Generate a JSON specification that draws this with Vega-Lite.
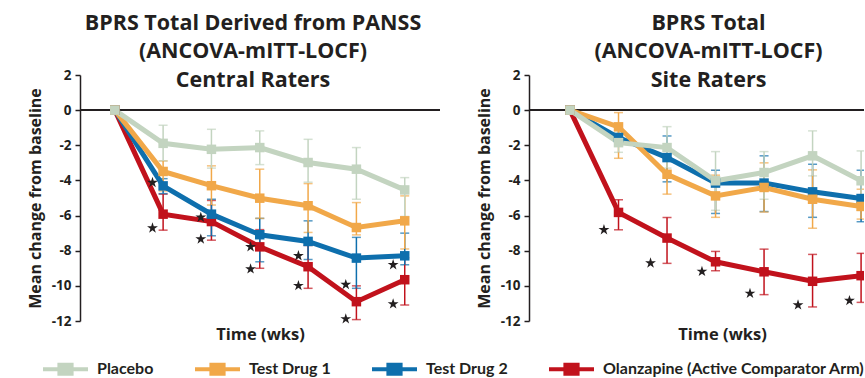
{
  "$schema": "https://vega.github.io/schema/vega-lite/v6.json",
  "padding": {"left": 27, "top": 12, "right": 0, "bottom": 0},
  "background": "white",
  "config": {
    "view": {"stroke": null},
    "font": "Open Sans",
    "axis": {"grid": false, "labelFont": "Open Sans", "titleFont": "Open Sans", "labelColor": "#231f20", "titleColor": "#231f20"},
    "title": {"font": "Open Sans", "fontWeight": "bold", "color": "#231f20"}
  },
  "datasets": {
    "central": [
      {"drug": "Olanzapine (Active Comparator Arm)", "week": 0, "mean": 0, "lo": 0, "hi": 0},
      {"drug": "Olanzapine (Active Comparator Arm)", "week": 1, "mean": -5.92, "lo": -4.78, "hi": -6.83},
      {"drug": "Olanzapine (Active Comparator Arm)", "week": 2, "mean": -6.34, "lo": -5.14, "hi": -7.4},
      {"drug": "Olanzapine (Active Comparator Arm)", "week": 3, "mean": -7.78, "lo": -6.8, "hi": -9.0},
      {"drug": "Olanzapine (Active Comparator Arm)", "week": 4, "mean": -8.91, "lo": -7.7, "hi": -10.14},
      {"drug": "Olanzapine (Active Comparator Arm)", "week": 5, "mean": -10.9, "lo": -10.0, "hi": -11.92},
      {"drug": "Olanzapine (Active Comparator Arm)", "week": 6, "mean": -9.65, "lo": -8.4, "hi": -11.09},
      {"drug": "Test Drug 2", "week": 0, "mean": 0, "lo": 0, "hi": 0},
      {"drug": "Test Drug 2", "week": 1, "mean": -4.31, "lo": -3.9, "hi": -4.75},
      {"drug": "Test Drug 2", "week": 2, "mean": -5.92, "lo": -5.07, "hi": -7.15},
      {"drug": "Test Drug 2", "week": 3, "mean": -7.09, "lo": -6.16, "hi": -8.63},
      {"drug": "Test Drug 2", "week": 4, "mean": -7.47, "lo": -6.3, "hi": -8.5},
      {"drug": "Test Drug 2", "week": 5, "mean": -8.42, "lo": -7.24, "hi": -10.14},
      {"drug": "Test Drug 2", "week": 6, "mean": -8.29, "lo": -7.0, "hi": -8.8},
      {"drug": "Test Drug 1", "week": 0, "mean": 0, "lo": 0, "hi": 0},
      {"drug": "Test Drug 1", "week": 1, "mean": -3.49, "lo": -2.89, "hi": -4.6},
      {"drug": "Test Drug 1", "week": 2, "mean": -4.3, "lo": -3.17, "hi": -5.4},
      {"drug": "Test Drug 1", "week": 3, "mean": -5.01, "lo": -3.36, "hi": -6.16},
      {"drug": "Test Drug 1", "week": 4, "mean": -5.44, "lo": -4.18, "hi": -6.96},
      {"drug": "Test Drug 1", "week": 5, "mean": -6.68, "lo": -5.26, "hi": -7.1},
      {"drug": "Test Drug 1", "week": 6, "mean": -6.3, "lo": -4.88, "hi": -7.9},
      {"drug": "Placebo", "week": 0, "mean": 0, "lo": 0, "hi": 0},
      {"drug": "Placebo", "week": 1, "mean": -1.89, "lo": -0.86, "hi": -2.89},
      {"drug": "Placebo", "week": 2, "mean": -2.23, "lo": -1.09, "hi": -3.3},
      {"drug": "Placebo", "week": 3, "mean": -2.13, "lo": -1.18, "hi": -3.1},
      {"drug": "Placebo", "week": 4, "mean": -2.98, "lo": -1.66, "hi": -4.1},
      {"drug": "Placebo", "week": 5, "mean": -3.36, "lo": -2.13, "hi": -5.07},
      {"drug": "Placebo", "week": 6, "mean": -4.54, "lo": -3.84, "hi": -6.05}
    ],
    "site": [
      {"drug": "Olanzapine (Active Comparator Arm)", "week": 0, "mean": 0, "lo": 0, "hi": 0},
      {"drug": "Olanzapine (Active Comparator Arm)", "week": 1, "mean": -5.82, "lo": -5.1, "hi": -6.81},
      {"drug": "Olanzapine (Active Comparator Arm)", "week": 2, "mean": -7.28, "lo": -6.11, "hi": -8.72},
      {"drug": "Olanzapine (Active Comparator Arm)", "week": 3, "mean": -8.63, "lo": -8.04, "hi": -9.14},
      {"drug": "Olanzapine (Active Comparator Arm)", "week": 4, "mean": -9.2, "lo": -7.91, "hi": -10.5},
      {"drug": "Olanzapine (Active Comparator Arm)", "week": 5, "mean": -9.74, "lo": -8.21, "hi": -11.2},
      {"drug": "Olanzapine (Active Comparator Arm)", "week": 6, "mean": -9.42, "lo": -8.15, "hi": -10.94},
      {"drug": "Test Drug 2", "week": 0, "mean": 0, "lo": 0, "hi": 0},
      {"drug": "Test Drug 2", "week": 1, "mean": -1.56, "lo": -1.1, "hi": -2.0},
      {"drug": "Test Drug 2", "week": 2, "mean": -2.7, "lo": -1.47, "hi": -4.08},
      {"drug": "Test Drug 2", "week": 3, "mean": -4.15, "lo": -3.42, "hi": -5.88},
      {"drug": "Test Drug 2", "week": 4, "mean": -4.15, "lo": -2.6, "hi": -5.77},
      {"drug": "Test Drug 2", "week": 5, "mean": -4.65, "lo": -3.08, "hi": -6.1},
      {"drug": "Test Drug 2", "week": 6, "mean": -5.03, "lo": -3.42, "hi": -6.35},
      {"drug": "Test Drug 1", "week": 0, "mean": 0, "lo": 0, "hi": 0},
      {"drug": "Test Drug 1", "week": 1, "mean": -0.95, "lo": -0.14, "hi": -2.74},
      {"drug": "Test Drug 1", "week": 2, "mean": -3.65, "lo": -2.5, "hi": -4.78},
      {"drug": "Test Drug 1", "week": 3, "mean": -4.88, "lo": -3.7, "hi": -6.1},
      {"drug": "Test Drug 1", "week": 4, "mean": -4.4, "lo": -3.0, "hi": -5.8},
      {"drug": "Test Drug 1", "week": 5, "mean": -5.07, "lo": -3.4, "hi": -6.72},
      {"drug": "Test Drug 1", "week": 6, "mean": -5.48, "lo": -4.5, "hi": -6.2},
      {"drug": "Placebo", "week": 0, "mean": 0, "lo": 0, "hi": 0},
      {"drug": "Placebo", "week": 1, "mean": -1.85, "lo": -1.3, "hi": -2.4},
      {"drug": "Placebo", "week": 2, "mean": -2.13, "lo": -0.94, "hi": -3.3},
      {"drug": "Placebo", "week": 3, "mean": -4.02, "lo": -2.36, "hi": -5.7},
      {"drug": "Placebo", "week": 4, "mean": -3.55, "lo": -2.36, "hi": -5.07},
      {"drug": "Placebo", "week": 5, "mean": -2.6, "lo": -1.18, "hi": -3.74},
      {"drug": "Placebo", "week": 6, "mean": -4.02, "lo": -2.32, "hi": -5.7}
    ],
    "starsCentral": [
      {"x": 0.78, "y": -4.12}, {"x": 0.78, "y": -6.71},
      {"x": 1.78, "y": -6.1}, {"x": 1.78, "y": -7.34},
      {"x": 2.81, "y": -7.78}, {"x": 2.81, "y": -9.04},
      {"x": 3.8, "y": -8.29}, {"x": 3.8, "y": -9.99},
      {"x": 4.78, "y": -9.93}, {"x": 4.78, "y": -11.88},
      {"x": 5.76, "y": -8.8}, {"x": 5.76, "y": -11.03}
    ],
    "starsSite": [
      {"x": 0.7, "y": -6.81}, {"x": 1.66, "y": -8.7}, {"x": 2.72, "y": -9.18},
      {"x": 3.71, "y": -10.43}, {"x": 4.7, "y": -11.09}, {"x": 5.76, "y": -10.84}
    ]
  },
  "resolve": {"scale": {"x": "independent", "y": "independent", "color": "shared"}, "legend": {"color": "shared"}},
  "spacing": 35,
  "hconcat": [
    {
      "width": 360,
      "height": 246,
      "title": {"text": ["BPRS Total Derived from PANSS", "(ANCOVA-mITT-LOCF)", "Central Raters"], "fontSize": 21.5, "lineHeight": 28.5, "offset": -23, "anchor": "middle", "dx": -7},
      "layer": [
        {
          "data": {"name": "central"},
          "mark": {"type": "rule", "color": "#231f20", "strokeWidth": 1.5},
          "encoding": {"y": {"datum": 0, "type": "quantitative", "scale": {"domain": [-12, 2]}}}
        },
        {
          "data": {"name": "central"},
          "transform": [{"filter": "datum.week > 0"}],
          "mark": {"type": "errorbar", "ticks": true, "size": 9, "thickness": 1.5},
          "encoding": {
            "x": {"field": "week", "type": "quantitative"},
            "y": {"field": "lo", "type": "quantitative"},
            "y2": {"field": "hi"},
            "color": {"field": "drug", "type": "nominal"}
          }
        },
        {
          "data": {"name": "central"},
          "mark": {"type": "line", "strokeWidth": 5},
          "encoding": {
            "x": {"field": "week", "type": "quantitative"},
            "y": {"field": "mean", "type": "quantitative"},
            "color": {"field": "drug", "type": "nominal"}
          }
        },
        {
          "data": {"name": "central"},
          "mark": {"type": "point", "shape": "square", "filled": true, "opacity": 1, "size": 90},
          "encoding": {
            "x": {"field": "week", "type": "quantitative"},
            "y": {"field": "mean", "type": "quantitative"},
            "color": {"field": "drug", "type": "nominal"}
          }
        },
        {
          "data": {"name": "starsCentral"},
          "mark": {"type": "point", "shape": "M0,-1L0.2245,-0.309L0.951,-0.309L0.363,0.118L0.588,0.809L0,0.382L-0.588,0.809L-0.363,0.118L-0.951,-0.309L-0.2245,-0.309Z", "filled": true, "opacity": 1, "size": 130, "color": "#231f20"},
          "encoding": {
            "x": {"field": "x", "type": "quantitative"},
            "y": {"field": "y", "type": "quantitative"}
          }
        }
      ],
      "encoding": {
        "x": {"type": "quantitative", "scale": {"domain": [-0.72, 6.73], "nice": false, "zero": false},
              "axis": {"labels": false, "ticks": false, "domain": false, "title": "Time (wks)", "titleFontSize": 16.5, "titleFontWeight": "bold", "titlePadding": 5}},
        "y": {"type": "quantitative", "scale": {"domain": [-12, 2], "nice": false},
              "axis": {"title": "Mean change from baseline", "values": [-12, -10, -8, -6, -4, -2, 0, 2], "labelExpr": "replace(datum.label, '\u2212', '-')", "labelFontSize": 13.5, "labelFontWeight": "bold", "labelPadding": 4, "tickSize": 5, "tickWidth": 1.5, "tickColor": "#231f20", "domainColor": "#231f20", "domainWidth": 1.5, "titleFontSize": 16, "titleFontWeight": "bold", "titlePadding": 8}},
        "color": {"type": "nominal", "scale": {"domain": ["Placebo", "Test Drug 1", "Test Drug 2", "Olanzapine (Active Comparator Arm)"], "range": ["#c3d4c0", "#f1a849", "#0e6fad", "#c1121c"]},
                  "legend": {"title": null, "orient": "none", "direction": "horizontal", "legendX": -37, "legendY": 271.5,
                             "symbolType": "M-1,-0.09H1V0.09H-1Z M-0.36,-0.29H0.36V0.29H-0.36Z", "symbolSize": 2025, "symbolStrokeWidth": 0,
                             "labelFont": "Lato", "labelFontSize": 16, "labelFontWeight": "bold", "labelColor": "#231f20", "labelOffset": 9, "labelLimit": 400, "columnPadding": 41,
                             "encode": {"symbols": {"update": {"fill": {"scale": "color", "field": "value"}, "stroke": {"value": "transparent"}, "opacity": {"value": 1}}}}}}
      }
    },
    {
      "width": 335,
      "height": 246,
      "title": {"text": ["BPRS Total", "(ANCOVA-mITT-LOCF)", "Site Raters"], "fontSize": 21.5, "lineHeight": 28.5, "offset": -23, "anchor": "middle", "dx": 12},
      "layer": [
        {
          "data": {"name": "site"},
          "mark": {"type": "rule", "color": "#231f20", "strokeWidth": 1.5, "clip": true},
          "encoding": {"y": {"datum": 0, "type": "quantitative", "scale": {"domain": [-12, 2]}}}
        },
        {
          "data": {"name": "site"},
          "transform": [{"filter": "datum.week > 0"}],
          "mark": {"type": "errorbar", "ticks": true, "size": 9, "thickness": 1.5, "clip": true},
          "encoding": {
            "x": {"field": "week", "type": "quantitative"},
            "y": {"field": "lo", "type": "quantitative"},
            "y2": {"field": "hi"},
            "color": {"field": "drug", "type": "nominal"}
          }
        },
        {
          "data": {"name": "site"},
          "mark": {"type": "line", "strokeWidth": 5, "clip": true},
          "encoding": {
            "x": {"field": "week", "type": "quantitative"},
            "y": {"field": "mean", "type": "quantitative"},
            "color": {"field": "drug", "type": "nominal"}
          }
        },
        {
          "data": {"name": "site"},
          "mark": {"type": "point", "shape": "square", "filled": true, "opacity": 1, "size": 90, "clip": true},
          "encoding": {
            "x": {"field": "week", "type": "quantitative"},
            "y": {"field": "mean", "type": "quantitative"},
            "color": {"field": "drug", "type": "nominal"}
          }
        },
        {
          "data": {"name": "starsSite"},
          "mark": {"type": "point", "shape": "M0,-1L0.2245,-0.309L0.951,-0.309L0.363,0.118L0.588,0.809L0,0.382L-0.588,0.809L-0.363,0.118L-0.951,-0.309L-0.2245,-0.309Z", "filled": true, "opacity": 1, "size": 130, "color": "#231f20", "clip": true},
          "encoding": {
            "x": {"field": "x", "type": "quantitative"},
            "y": {"field": "y", "type": "quantitative"}
          }
        }
      ],
      "encoding": {
        "x": {"type": "quantitative", "scale": {"domain": [-0.845, 6.06], "nice": false, "zero": false},
              "axis": {"labels": false, "ticks": false, "domain": false, "title": "Time (wks)", "titleFontSize": 16.5, "titleFontWeight": "bold", "titlePadding": 5, "titleX": 193}},
        "y": {"type": "quantitative", "scale": {"domain": [-12, 2], "nice": false},
              "axis": {"title": "Mean change from baseline", "values": [-12, -10, -8, -6, -4, -2, 0, 2], "labelExpr": "replace(datum.label, '\u2212', '-')", "labelFontSize": 13.5, "labelFontWeight": "bold", "labelPadding": 4, "tickSize": 5, "tickWidth": 1.5, "tickColor": "#231f20", "domainColor": "#231f20", "domainWidth": 1.5, "titleFontSize": 16, "titleFontWeight": "bold", "titlePadding": 8}},
        "color": {"type": "nominal"}
      }
    }
  ]
}
